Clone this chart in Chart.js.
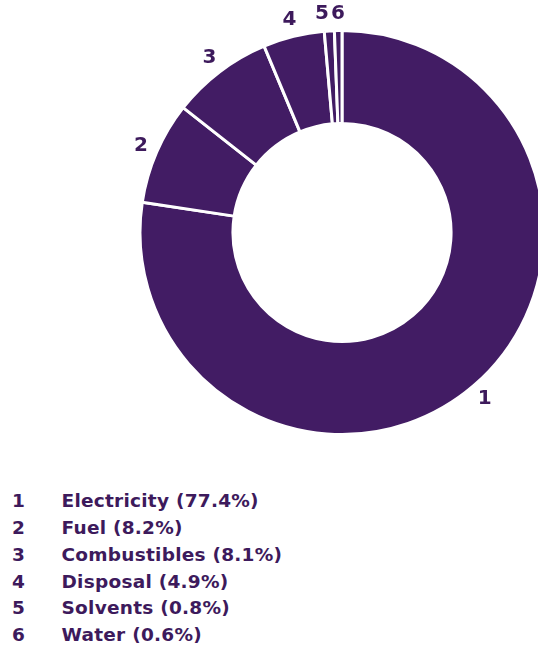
<!DOCTYPE html>
<html>
<head>
<meta charset="utf-8">
<script src="https://cdn.jsdelivr.net/npm/chart.js@4.4.0/dist/chart.umd.min.js"></script>
<style>
  html, body { margin: 0; padding: 0; background: #fff; overflow: hidden; }
  body { width: 538px; height: 647px; position: relative; }
  #wrap { position: absolute; left: 0; top: 0; width: 538px; height: 470px; }
  #legend { position: absolute; left: 0; top: 488px; margin: 0; padding: 0; list-style: none;
    font-family: "DejaVu Sans", sans-serif; font-weight: bold; font-size: 18.5px; letter-spacing: 0.25px; color: #3d1a5c; }
  #legend li { height: 26.85px; line-height: 26.85px; white-space: nowrap; }
  #legend .num { display: inline-block; width: 49.5px; padding-left: 12px; }
</style>
</head>
<body>
<div id="wrap"><canvas id="myChart"></canvas></div>
<ul id="legend"></ul>
<script>
var labels = ["Electricity", "Fuel", "Combustibles", "Disposal", "Solvents", "Water"];
var shares = [77.4, 8.2, 8.1, 4.9, 0.8, 0.6];
var numbers = ["1", "2", "3", "4", "5", "6"];

var purple = "#421c64";

// numbers placed just outside the ring, pushed apart when they collide
var arcNumbers = {
    id: "arcNumbers",
    afterDatasetsDraw: function (chart) {
        var ctx = chart.ctx;
        var meta = chart.getDatasetMeta(0);
        ctx.save();
        ctx.fillStyle = "#3d1a5c";
        ctx.font = "bold 20px 'DejaVu Sans', sans-serif";
        ctx.textAlign = "center";
        ctx.textBaseline = "middle";
        var pos = meta.data.map(function (arc) {
            var mid = (arc.startAngle + arc.endAngle) / 2;
            var r = arc.outerRadius + 17;
            return { x: arc.x + Math.cos(mid) * r, y: arc.y + Math.sin(mid) * r };
        });
        var minGap = 16;
        for (var i = pos.length - 2; i >= 0; i--) {
            var a = pos[i], b = pos[i + 1];
            if (Math.abs(a.y - b.y) < 20 && b.x - a.x < minGap) {
                a.x = b.x - minGap;
            }
        }
        pos.forEach(function (p, i) {
            ctx.fillText(numbers[i], p.x, p.y);
        });
        ctx.restore();
    }
};

var ctx = document.getElementById("myChart").getContext("2d");
var chart = new Chart(ctx, {
    type: "doughnut",
    data: {
        labels: labels,
        datasets: [
            {
                data: shares,
                backgroundColor: purple,
                borderColor: "#ffffff",
                borderWidth: 3,
                clip: false
            }
        ]
    },
    options: {
        responsive: true,
        maintainAspectRatio: false,
        animation: false,
        radius: 202,
        cutout: "54%",
        layout: { padding: { left: 146, right: 0, top: 0, bottom: 5 } },
        plugins: {
            legend: { display: false },
            tooltip: { enabled: false }
        }
    },
    plugins: [arcNumbers]
});

var legendEl = document.getElementById("legend");
labels.forEach(function (name, i) {
    var li = document.createElement("li");
    var num = document.createElement("span");
    num.className = "num";
    num.textContent = numbers[i];
    li.appendChild(num);
    li.appendChild(document.createTextNode(name + " (" + shares[i].toFixed(1) + "%)"));
    legendEl.appendChild(li);
});
</script>
</body>
</html>
